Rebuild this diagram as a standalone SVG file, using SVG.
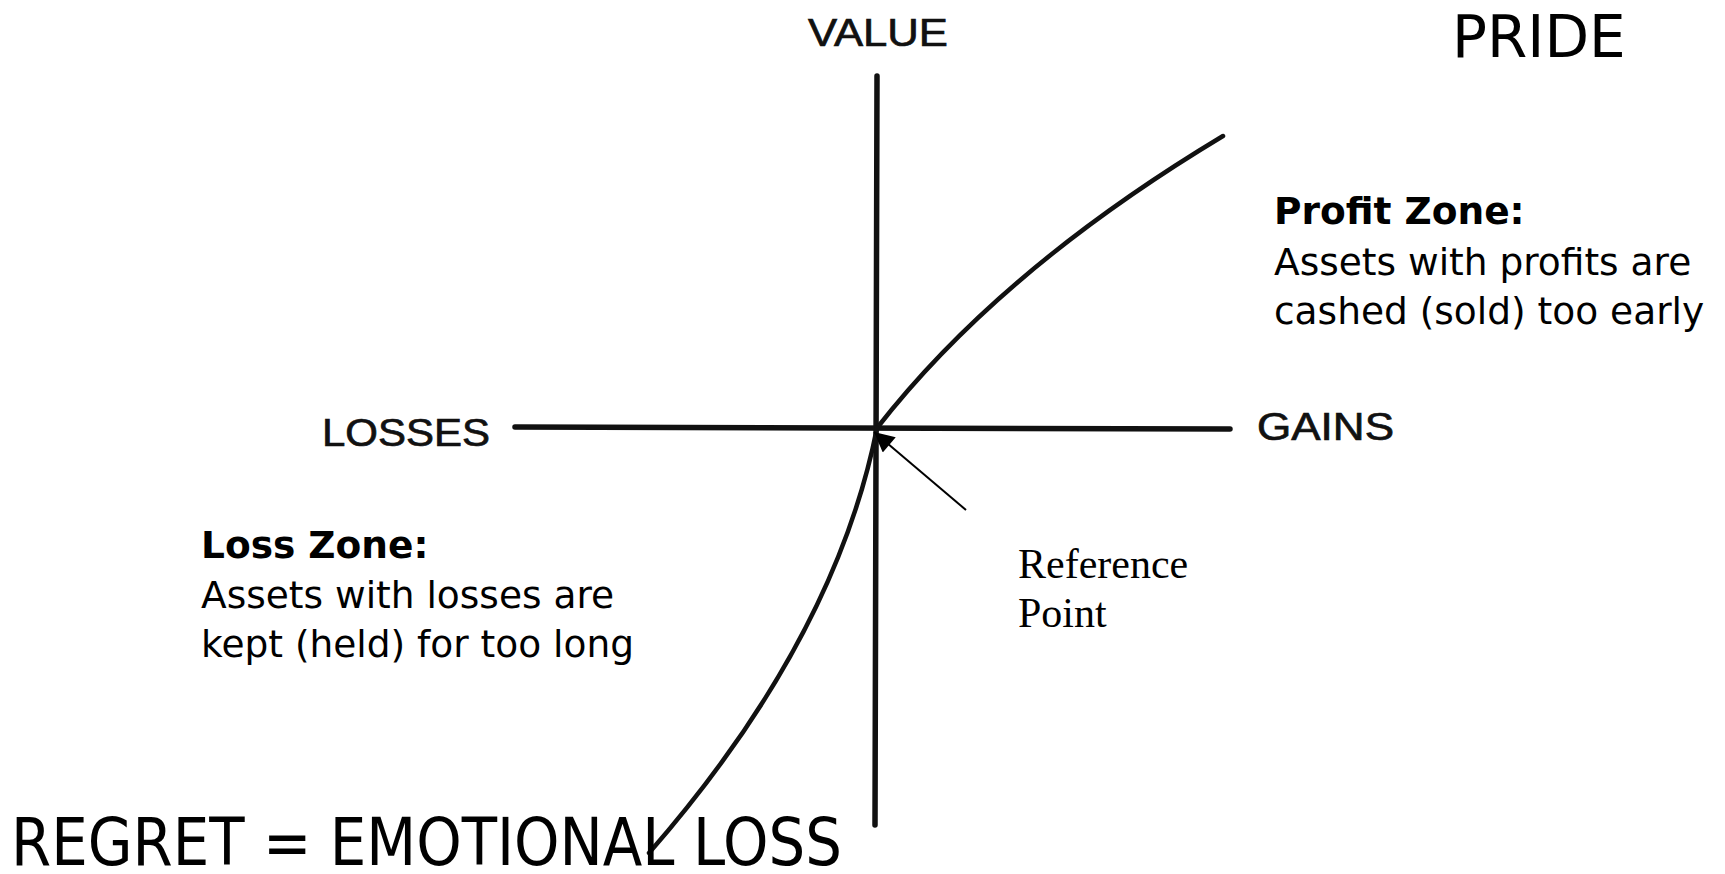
<svg xmlns="http://www.w3.org/2000/svg" width="1725" height="874" viewBox="0 0 1725 874">
<style>
.axis{stroke:#111;stroke-width:5.5;fill:none;stroke-linecap:round}
.curve{stroke:#111;stroke-width:4.5;fill:none;stroke-linecap:round}
.axlbl{font-family:"Liberation Sans",Arial,sans-serif;font-size:38px;fill:#111;stroke:#111;stroke-width:0.7}
.zone{font-family:"DejaVu Sans",Verdana,sans-serif;font-size:37.5px;fill:#000}
.zoneb{font-weight:bold}
.serif{font-family:"Liberation Serif","Times New Roman",serif;font-size:42px;fill:#000}
.big{font-family:"DejaVu Sans",Verdana,sans-serif;fill:#000}
</style>
<defs>
<marker id="ah" viewBox="0 0 10 10" refX="10" refY="5" markerWidth="24" markerHeight="20" orient="auto" markerUnits="userSpaceOnUse">
<path d="M0,0 L10,5 L0,10 z" fill="#000"/>
</marker>
</defs>
<rect width="1725" height="874" fill="#fff"/>
<g id="axes">
<path class="axis" d="M877,76 L875,825"/>
<path class="axis" d="M515,427 L1230,429"/>
</g>
<g id="connectors">
<path class="curve" d="M877,428 Q1000,270 1223,136"/>
<path class="curve" d="M877,428 Q835,640 649,853"/>
<line x1="966" y1="510" x2="874" y2="432" stroke="#000" stroke-width="2" marker-end="url(#ah)"/>
</g>
<g id="label-value"><text class="axlbl" x="808" y="46" textLength="140" lengthAdjust="spacingAndGlyphs">VALUE</text></g>
<g id="label-losses"><text class="axlbl" x="322" y="446" textLength="168" lengthAdjust="spacingAndGlyphs">LOSSES</text></g>
<g id="label-gains"><text class="axlbl" x="1257" y="440" textLength="137" lengthAdjust="spacingAndGlyphs">GAINS</text></g>
<g id="label-pride"><text class="big" x="1452" y="57" font-size="58">PRIDE</text></g>
<g id="profit-zone">
<text class="zone zoneb" x="1274" y="224">Profit Zone:</text>
<text class="zone" x="1274" y="275">Assets with profits are</text>
<text class="zone" x="1274" y="324">cashed (sold) too early</text>
</g>
<g id="loss-zone">
<text class="zone zoneb" x="201" y="558">Loss Zone:</text>
<text class="zone" x="201" y="608">Assets with losses are</text>
<text class="zone" x="201" y="657">kept (held) for too long</text>
</g>
<g id="reference-point">
<text class="serif" x="1018" y="578">Reference</text>
<text class="serif" x="1018" y="627">Point</text>
</g>
<g id="regret"><text class="big" x="11" y="865" font-size="65" textLength="831" lengthAdjust="spacingAndGlyphs">REGRET = EMOTIONAL LOSS</text></g>
</svg>
